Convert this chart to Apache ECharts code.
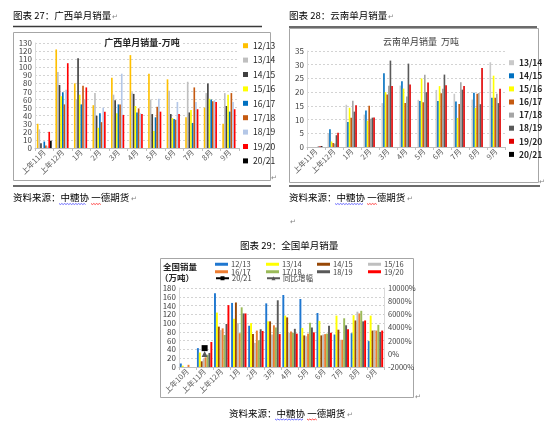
<!DOCTYPE html>
<html>
<head>
<meta charset="utf-8">
<script src="https://cdn.jsdelivr.net/npm/echarts@6/dist/echarts.min.js"></script>
<style>
html,body{margin:0;padding:0;background:#fff;}
#c{width:550px;height:423px;}
</style>
</head>
<body>
<div id="c"></div>
<script>
// ---------- categories ----------
const monthCats = ['上年11月','上年12月','1月','2月','3月','4月','5月','6月','7月','8月','9月'];
const natCats = ['上年10月','上年11月','上年12月','1月','2月','3月','4月','5月','6月','7月','8月','9月'];

// ---------- 广西单月销量 (万吨) ----------
const gxNames = ['12/13','13/14','14/15','15/16','16/17','17/18','18/19','19/20','20/21'];
const gx1213 = [30,122,80,53,87,115,92,85,38,50,30];
const gx1314 = [23,94,60,68,66,69,60,71,82,68,68];
const gx1415 = [6,78,111,40,59,67,42,42,44,80,52];
const gx1516 = [0,64,66,25,43,52,21,37,47,61,66];
const gx1617 = [8,69,54,43,54,44,38,36,31,60,45];
const gx1718 = [3,54,77,32,54,49,51,35,75,58,68];
const gx1819 = [2,72,60,50,92,43,61,57,57,59,57];
const gx1920 = [20,105,75,45,41,42,45,42,48,57,48];
const gx2021 = [9,null,null,null,null,null,null,null,null,null,null];
const gxTicks = {min:0, max:130, interval:10};

// ---------- 云南单月销量 (万吨) ----------
const ynNames = ['13/14','14/15','15/16','16/17','17/18','18/19','19/20','20/21'];
const yn1314 = [0,5,15.4,11.8,16,22.4,17.2,20.8,19.4,17.3,30.9];
const yn1415 = [0,6.5,9.1,13.3,26.9,24,16.8,16.8,16.6,19.8,18];
const yn1516 = [0,2,14.3,9.6,20,21.3,25,22.2,10.6,14.3,26];
const yn1617 = [0,1.5,10.7,15,19.1,16,16.3,19.6,15.7,19.4,18];
const yn1718 = [0,1.3,16.9,10.3,22.3,18.4,26.3,21.2,23.6,19.7,19.4];
const yn1819 = [0.2,4.3,12.9,10.7,31.5,30.4,20,26.4,20.9,15.6,16];
const yn1920 = [0.3,5.2,15.2,10.8,22.2,22.8,23.5,22.5,22.2,28.8,21.2];
const yn2021 = [0.3,null,null,null,null,null,null,null,null,null,null];
const ynTicks = {min:0, max:35, interval:5};

// ---------- 全国单月销量 (万吨) ----------
const natNames = ['12/13','13/14','14/15','15/16','16/17','17/18','18/19','19/20'];
const nat1213 = [8,43,168,146,94,145,164,155,123,74,77,59];
const nat1314 = [3,33,124,110,100,104,117,89,105,117,118,117];
const nat1415 = [0,13,92,147,75,104,113,72,72,85,106,83];
const nat1516 = [0,18,84,100,55,74,78,70,74,62,126,84];
const nat1617 = [5,22,88,77,83,95,81,76,75,62,122,83];
const nat1718 = [0,28,73,136,61,90,78,101,76,111,128,96];
const nat1819 = [0,32,98,122,86,152,87,90,94,95,104,80];
const nat1920 = [0,57,141,122,82,75,76,79,78,86,106,83];
const nat2021 = [null,43,null,null,null,null,null,null,null,null,null,null];
const natYoy  = [null,-25,null,null,null,null,null,null,null,null,null,null]; // 同比增幅 %
const natLeftTicks = {min:0, max:180, interval:20};
const natRightTicks = {min:-2000, max:10000, interval:2000};

// ---------- styles ----------
const FONT = '"Noto Sans CJK SC", "Noto Sans", sans-serif';
const gxColors = ['#FFC000','#BFBFBF','#404040','#FFFF00','#0070C0','#C55A11','#B4C7E7','#FF0000','#000000'];
const ynColors = ['#C9C9C9','#0070C0','#FFFF00','#C55A11','#A5A5A5','#595959','#E00000','#000000'];
const natColors = ['#1F77D0','#FFFF00','#974706','#BFBFBF','#ED7D31','#9BBB59','#595959','#FF0000'];

const gxData = [gx1213,gx1314,gx1415,gx1516,gx1617,gx1718,gx1819,gx1920,gx2021];
const ynData = [yn1314,yn1415,yn1516,yn1617,yn1718,yn1819,yn1920,yn2021];
const natData = [nat1213,nat1314,nat1415,nat1516,nat1617,nat1718,nat1819,nat1920];

function xAx(gi, cats){
  return {type:'category', gridIndex:gi, data:cats,
    axisLine:{lineStyle:{color:'#BFBFBF'}},
    axisTick:{show:true, length:3, lineStyle:{color:'#BFBFBF'}},
    axisLabel:{rotate:45, interval:0, fontSize:7.5, color:'#595959', margin:3, fontFamily:FONT}};
}
function yAx(gi, t, extra){
  return Object.assign({type:'value', gridIndex:gi, min:t.min, max:t.max, interval:t.interval,
    axisLine:{show:true, lineStyle:{color:'#D9D9D9'}},
    axisTick:{show:false},
    splitLine:{show:true, lineStyle:{color:'#C8C8C8', type:[2,2], width:0.8}},
    axisLabel:{fontSize:8, color:'#404040', margin:3, fontFamily:FONT}}, extra||{});
}

const series = [];
gxNames.forEach((n,i)=>series.push({name:'gx:'+n, type:'bar', xAxisIndex:0, yAxisIndex:0,
  data:gxData[i], barGap:'0%', barCategoryGap:'20%', itemStyle:{color:gxColors[i]}}));
ynNames.forEach((n,i)=>series.push({name:'yn:'+n, type:'bar', xAxisIndex:1, yAxisIndex:1,
  data:ynData[i], barGap:'0%', barCategoryGap:'28%', itemStyle:{color:ynColors[i]}}));
natNames.forEach((n,i)=>series.push({name:'nat:'+n, type:'bar', xAxisIndex:2, yAxisIndex:2,
  data:natData[i], barGap:'0%', barCategoryGap:'10%', itemStyle:{color:natColors[i]}}));
series.push({name:'nat:20/21', type:'line', xAxisIndex:2, yAxisIndex:2, data:nat2021,
  symbol:'rect', symbolSize:6, itemStyle:{color:'#000'}, lineStyle:{color:'#000', width:1.5}, z:5});
series.push({name:'nat:同比增幅', type:'line', xAxisIndex:2, yAxisIndex:3, data:natYoy,
  symbol:'triangle', symbolSize:6, itemStyle:{color:'#595959'}, lineStyle:{color:'#595959', width:1}, z:5});

const strip = n => n.split(':')[1];
function legendV(names, left, top, gap, lh, opts){
  return Object.assign({orient:'vertical', left:left, top:top, itemGap:gap, padding:0,
    itemWidth:5, itemHeight:5, icon:'rect', formatter:strip, selectedMode:false,
    textStyle:{fontSize:8.5, lineHeight:lh, color:'#262626', fontFamily:FONT},
    data:names}, opts||{});
}
const natLegend = (names, left, top, iconType) => ({orient:'vertical', left:left, top:top, itemGap:0, padding:0,
  itemWidth:13, itemHeight: iconType ? 5 : 3, formatter:strip, selectedMode:false,
  textStyle:{fontSize:7.5, lineHeight:7, color:'#404040', fontFamily:FONT, padding:[0,0,0,-2]},
  data:names.map(n=> iconType ? {name:n} : {name:n, icon:'rect'})});

const legends = [
  legendV(gxNames.map(n=>'gx:'+n), 243, 40.7, 4.4, 10),
  legendV(ynNames.map(n=>'yn:'+n), 509, 57.7, 3.1, 10, {textStyle:{fontSize:8.5, lineHeight:10, fontWeight:'bold', color:'#262626', fontFamily:FONT}}),
  natLegend(['nat:12/13','nat:16/17'], 215, 260.5),
  natLegend(['nat:13/14','nat:17/18'], 266, 260.5),
  natLegend(['nat:14/15','nat:18/19'], 317, 260.5),
  natLegend(['nat:15/16','nat:19/20'], 368, 260.5),
  natLegend(['nat:20/21'], 215, 274.5, true),
  natLegend(['nat:同比增幅'], 266, 274.5, true)
];

// ---------- document decoration ----------
function txt(t, x, y, size, opts){
  return Object.assign({type:'text', x:x, y:y, z:100, style:Object.assign({text:t, fill:'#000',
    font: (size)+'px '+FONT, verticalAlign:'middle', align:'left'}, (opts&&opts.style)||{})}, (opts&&opts.el)||{});
}
function rule(x1,x2,y){ return {type:'line', z:1, shape:{x1:x1,y1:y,x2:x2,y2:y}, style:{stroke:'#3A3A3A', lineWidth:1.5}}; }
function box(x,y,w,h){ return {type:'rect', z:0, shape:{x:x,y:y,width:w,height:h}, style:{fill:'none', stroke:'#A6A6A6', lineWidth:1}}; }
function wavy(x0,x1,y,color){
  const pts=[]; let i=0;
  for(let x=x0; x<=x1; x+=1.4, i++) pts.push([x, y + (i%2 ? 1 : 0)]);
  return {type:'polyline', z:100, shape:{points:pts}, style:{stroke:color, lineWidth:0.7, fill:null}};
}
const ret = (x,y)=>txt('↵', x, y, 7, {style:{fill:'#7F7F7F'}});

const graphic = [
  box(13.5,32.5,257,148), box(289.5,28.5,249,154), box(160.5,258.5,253,139),
  rule(13,262,26.5), rule(13,271,186), rule(289,537,27), rule(289,540,186),
  txt('图表 27：广西单月销量', 13, 15, 9.5), txt('图表 28：云南单月销量', 289, 15, 9.5),
  ret(112,16), ret(388,16),
  txt('资料来源：中糖协 一德期货', 13, 197, 9.5), txt('资料来源：中糖协 一德期货', 289, 197, 9.5),
  ret(131,198), ret(407,198),
  wavy(59,87,203.5,'#3232FF'), wavy(91,102,203.5,'#FF0000'),
  wavy(335,363,203.5,'#3232FF'), wavy(367,378,203.5,'#FF0000'),
  ret(271,177), ret(539,181), ret(290,221), ret(415,396),
  txt('图表 29：全国单月销量', 240, 245, 9.5), ret(333,246),
  txt('资料来源：中糖协 一德期货', 229, 413, 9.5), ret(347,414),
  wavy(275,303,419,'#3232FF'), wavy(307,318,419,'#FF0000'),
  txt('广西单月销量-万吨', 142, 43, 9, {style:{align:'center', fill:'#262626', backgroundColor:'#fff', padding:[0,2], font:'bold 9px '+FONT}}),
  txt('云南单月销量  万吨', 421, 42, 9, {style:{align:'center', fill:'#404040'}}),
  txt('全国销量', 163, 267, 8.5, {style:{font:'bold 8.5px '+FONT, fill:'#262626'}}),
  txt('（万吨）', 160, 277.5, 8.5, {style:{font:'bold 8.5px '+FONT, fill:'#262626'}})
];

const option = {
  animation:false,
  backgroundColor:'#fff',
  textStyle:{fontFamily:FONT},
  grid:[
    {left:35, top:43, width:204, height:105},
    {left:307, top:51, width:198, height:96},
    {left:179, top:288, width:205, height:79}
  ],
  xAxis:[xAx(0,monthCats), xAx(1,monthCats), xAx(2,natCats)],
  yAxis:[
    yAx(0,gxTicks),
    yAx(1,ynTicks),
    yAx(2,natLeftTicks),
    yAx(2,natRightTicks,{position:'right', splitLine:{show:false},
      axisLabel:{fontSize:7.5, color:'#404040', margin:4, fontFamily:FONT, formatter:v => v + '%'}})
  ],
  legend:legends,
  graphic:graphic,
  series:series
};
const chart = echarts.init(document.getElementById('c'), null, {renderer:'canvas'});
chart.setOption(option);
</script>
</body>
</html>
